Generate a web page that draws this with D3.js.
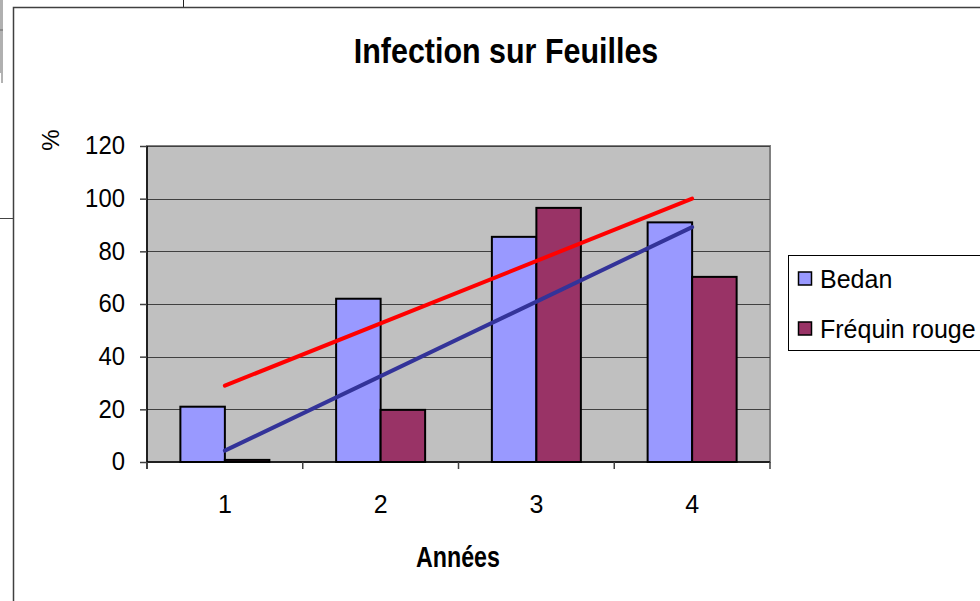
<!DOCTYPE html>
<html>
<head>
<meta charset="utf-8">
<script src="https://cdn.jsdelivr.net/npm/d3@7"></script>
<style>
  html, body { margin: 0; padding: 0; background: #fff; }
  svg { display: block; font-family: "Liberation Sans", Arial, sans-serif; }
</style>
</head>
<body>
<div id="chart"></div>
<script>
  // data
  var years = ['1', '2', '3', '4'];
  var seriesNames = ['Bedan', 'Fréquin rouge'];
  var bedan = [21, 62, 85.5, 91];
  var frequin = [0.8, 19.8, 96.5, 70.3];
  // trend lines (start at year 1, end at year 4)
  var trendBedan = [29, 100];
  var trendFrequin = [4.3, 89.2];
  var yTicks = [0, 20, 40, 60, 80, 100, 120];

(function() {
  'use strict';

  var colors = ['#9999ff', '#993366'];
  var trendColors = ['#ff0000', '#333399'];

  var W = 980, H = 601;
  var pLeft = 147, pRight = 770, pTop = 146, pBottom = 462;

  var svg = d3.select('#chart').append('svg')
    .attr('width', W)
    .attr('height', H);

  // window frame bits around the chart
  svg.append('rect').attr('x', 0).attr('y', 0).attr('width', 3).attr('height', 73).attr('fill', '#b0b0b0');
  svg.append('line').attr('x1', 0).attr('x2', 3).attr('y1', 30).attr('y2', 30).attr('stroke', '#666');
  svg.append('line').attr('x1', 2).attr('x2', 2).attr('y1', 73).attr('y2', 83).attr('stroke', '#666');
  svg.append('line').attr('x1', 0).attr('x2', 13).attr('y1', 218.5).attr('y2', 218.5).attr('stroke', '#444');
  svg.append('line').attr('x1', 183.5).attr('x2', 183.5).attr('y1', 0).attr('y2', 7).attr('stroke', '#222');
  svg.append('path')
    .attr('d', 'M13.5,' + H + 'V7.5H' + W)
    .attr('fill', 'none')
    .attr('stroke', '#404040')
    .attr('stroke-width', 1.5);

  var x = d3.scaleBand().domain(years).range([pLeft, pRight]);
  var xInner = d3.scaleBand().domain(seriesNames).range([0, x.bandwidth()]).paddingInner(0).paddingOuter(0.75);
  var y = d3.scaleLinear().domain([0, 120]).range([pBottom, pTop]);
  var xLin = d3.scalePoint().domain(years).range([pLeft + x.bandwidth() / 2, pRight - x.bandwidth() / 2]);

  // plot area
  svg.append('rect')
    .attr('x', pLeft).attr('y', pTop)
    .attr('width', pRight - pLeft).attr('height', pBottom - pTop)
    .attr('fill', '#c0c0c0')
    .attr('stroke', '#808080')
    .attr('stroke-width', 2);

  // gridlines
  svg.append('g')
    .selectAll('line')
    .data(yTicks.slice(1))
    .enter().append('line')
    .attr('x1', pLeft).attr('x2', pRight)
    .attr('y1', function(d) { return Math.round(y(d)) + 0.5; })
    .attr('y2', function(d) { return Math.round(y(d)) + 0.5; })
    .attr('stroke', '#404040')
    .attr('stroke-width', 1.2);

  // bars
  var data = [bedan, frequin];
  data.forEach(function(vals, s) {
    svg.append('g')
      .selectAll('rect')
      .data(vals)
      .enter().append('rect')
      .attr('x', function(d, i) { return x(years[i]) + xInner(seriesNames[s]); })
      .attr('y', function(d) { return y(d); })
      .attr('width', xInner.bandwidth())
      .attr('height', function(d) { return pBottom - y(d); })
      .attr('fill', colors[s])
      .attr('stroke', '#000')
      .attr('stroke-width', 2);
  });

  // trend lines
  [trendBedan, trendFrequin].forEach(function(t, s) {
    svg.append('line')
      .attr('x1', xLin(years[0])).attr('y1', y(t[0]))
      .attr('x2', xLin(years[3])).attr('y2', y(t[1]))
      .attr('stroke', trendColors[s])
      .attr('stroke-width', 4)
      .attr('stroke-linecap', 'round');
  });

  // y axis
  var yAxis = svg.append('g')
    .attr('transform', 'translate(' + pLeft + ',0)')
    .call(d3.axisLeft(y).tickValues(yTicks).tickSize(7).tickPadding(15));
  yAxis.select('.domain').attr('stroke', '#000').attr('stroke-width', 1.5).attr('d', 'M0,' + pTop + 'V' + (pBottom + 7));
  yAxis.selectAll('.tick line').attr('stroke', '#404040').attr('stroke-width', 1.5);
  yAxis.selectAll('.tick text')
    .attr('fill', '#000')
    .style('font-size', '26px')
    .attr('font-family', '"Liberation Sans", Arial, sans-serif')
    .attr('x', 0)
    .attr('transform', 'translate(-22,0) scale(0.92,1)')
    .attr('dy', '0.3em');

  // x axis
  var xAxis = svg.append('g')
    .attr('transform', 'translate(0,' + pBottom + ')')
    .call(d3.axisBottom(x).tickSize(0));
  xAxis.select('.domain').attr('stroke', '#000').attr('stroke-width', 1.5).attr('d', 'M' + pLeft + ',0H' + pRight);
  xAxis.selectAll('.tick text')
    .attr('fill', '#000')
    .style('font-size', '25px')
    .attr('font-family', '"Liberation Sans", Arial, sans-serif')
    .attr('y', 51)
    .attr('dy', 0);
  // tick marks at category boundaries
  svg.append('g')
    .selectAll('line')
    .data(years.concat(['end']))
    .enter().append('line')
    .attr('x1', function(d, i) { return pLeft + i * x.step(); })
    .attr('x2', function(d, i) { return pLeft + i * x.step(); })
    .attr('y1', pBottom).attr('y2', pBottom + 7)
    .attr('stroke', '#404040')
    .attr('stroke-width', 1.5);

  // title and axis titles
  svg.append('text')
    .attr('transform', 'translate(506,63) scale(0.87,1)')
    .attr('text-anchor', 'middle')
    .style('font-size', '35px')
    .style('font-weight', 'bold')
    .text('Infection sur Feuilles');

  svg.append('text')
    .attr('transform', 'translate(458,567) scale(0.8,1)')
    .attr('text-anchor', 'middle')
    .style('font-size', '29px')
    .style('font-weight', 'bold')
    .text('Années');

  svg.append('text')
    .attr('transform', 'translate(59,140) rotate(-90)')
    .attr('text-anchor', 'middle')
    .style('font-size', '24px')
    .text('%');

  // legend
  var legend = svg.append('g');
  legend.append('rect')
    .attr('x', 788.5).attr('y', 255.5)
    .attr('width', 200).attr('height', 95)
    .attr('fill', '#fff')
    .attr('stroke', '#000')
    .attr('stroke-width', 1);
  seriesNames.forEach(function(name, i) {
    var ly = 288 + i * 50;
    legend.append('rect')
      .attr('x', 798.5).attr('y', ly - 16)
      .attr('width', 13).attr('height', 13)
      .attr('fill', colors[i])
      .attr('stroke', '#000')
      .attr('stroke-width', 1.5);
    legend.append('text')
      .attr('x', 820).attr('y', ly)
      .style('font-size', '25px')
      .text(name);
  });
}());
</script>
</body>
</html>
